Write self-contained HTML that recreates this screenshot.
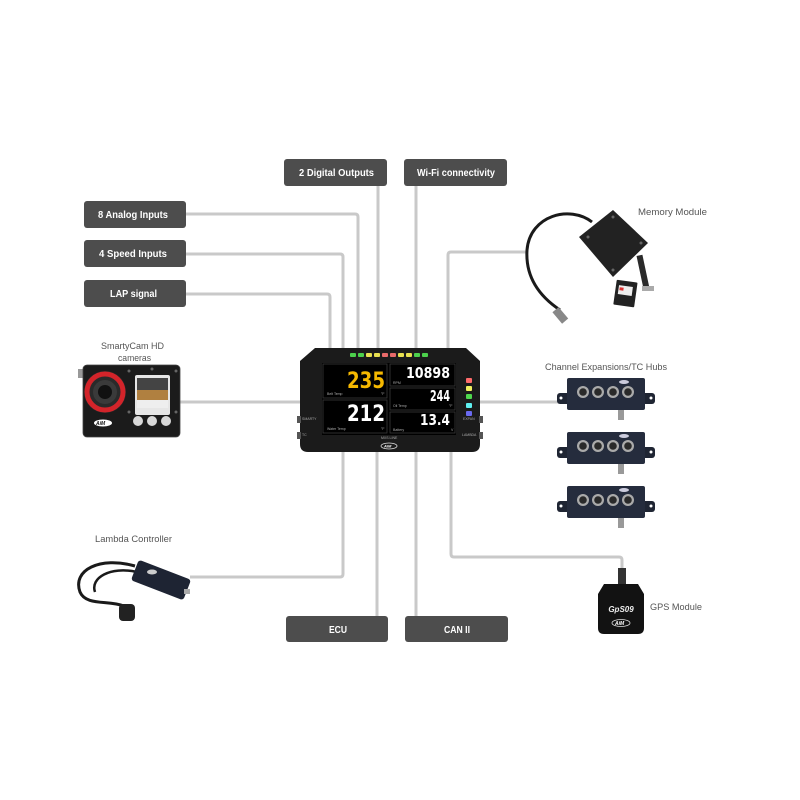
<!DOCTYPE html>
<html><head><meta charset="utf-8"><style>
html,body{margin:0;padding:0;background:#fff;}
svg{display:block;}
.lbl{font-family:"Liberation Sans",sans-serif;font-weight:bold;font-size:10.5px;fill:#fff;}
.cap{font-family:"Liberation Sans",sans-serif;font-size:9.5px;fill:#555;}
.tiny{font-family:"Liberation Sans",sans-serif;font-size:3.5px;fill:#aaa;}
.num{font-family:"DejaVu Sans","Liberation Sans",sans-serif;font-weight:bold;}
</style></head><body>
<svg width="800" height="800" viewBox="0 0 800 800" xmlns="http://www.w3.org/2000/svg">
<rect width="800" height="800" fill="#fff"/>
<!-- connectors -->
<g fill="none" stroke="#c9c9c9" stroke-width="3">
<path d="M186,214 H355 Q358,214 358,217 V350"/>
<path d="M186,254 H340 Q343,254 343,257 V350"/>
<path d="M186,294 H327 Q330,294 330,297 V350"/>
<path d="M378,186 V350"/>
<path d="M416,186 V350"/>
<path d="M527,252 H451 Q448,252 448,255 V350"/>
<path d="M180,402 H300"/>
<path d="M480,402 H563"/>
<path d="M190,577 H340 Q343,577 343,574 V450"/>
<path d="M377,450 V616"/>
<path d="M416,450 V616"/>
<path d="M451,450 V554 Q451,557 454,557 H619 Q622,557 622,560 V570"/>
</g>
<!-- label boxes -->
<g fill="#4d4d4d">
<rect x="84" y="201" width="102" height="27" rx="3"/>
<rect x="84" y="240" width="102" height="27" rx="3"/>
<rect x="84" y="280" width="102" height="27" rx="3"/>
<rect x="284" y="159" width="103" height="27" rx="3"/>
<rect x="404" y="159" width="103" height="27" rx="3"/>
<rect x="286" y="616" width="102" height="26" rx="3"/>
<rect x="405" y="616" width="103" height="26" rx="3"/>
</g>
<g class="lbl">
<text x="98" y="218" textLength="70" lengthAdjust="spacingAndGlyphs">8 Analog Inputs</text>
<text x="99" y="257" textLength="68" lengthAdjust="spacingAndGlyphs">4 Speed Inputs</text>
<text x="110" y="297" textLength="47" lengthAdjust="spacingAndGlyphs">LAP signal</text>
<text x="299" y="176" textLength="75" lengthAdjust="spacingAndGlyphs">2 Digital Outputs</text>
<text x="417" y="176" textLength="78" lengthAdjust="spacingAndGlyphs">Wi-Fi connectivity</text>
<text x="329" y="633" textLength="18" lengthAdjust="spacingAndGlyphs">ECU</text>
<text x="444" y="633" textLength="26" lengthAdjust="spacingAndGlyphs">CAN II</text>
</g>
<!-- captions -->
<g class="cap">
<text x="638" y="215" textLength="69" lengthAdjust="spacingAndGlyphs">Memory Module</text>
<text x="545" y="370" textLength="122" lengthAdjust="spacingAndGlyphs">Channel Expansions/TC Hubs</text>
<text x="650" y="610" textLength="52" lengthAdjust="spacingAndGlyphs">GPS Module</text>
<text x="101" y="349" textLength="63" lengthAdjust="spacingAndGlyphs">SmartyCam HD</text>
<text x="118" y="361" textLength="33" lengthAdjust="spacingAndGlyphs">cameras</text>
<text x="95" y="542" textLength="77" lengthAdjust="spacingAndGlyphs">Lambda Controller</text>
</g>
<!-- dashboard -->
<path d="M315,348 H466 L480,361 V444 Q480,452 472,452 H308 Q300,452 300,444 V361 Z" fill="#1b1b1b"/>
<g fill="#555">
<rect x="297" y="416" width="4" height="7"/><rect x="297" y="432" width="4" height="7"/>
<rect x="479" y="416" width="4" height="7"/><rect x="479" y="432" width="4" height="7"/>
</g>
<text class="tiny" x="302" y="420">SMARTY</text><text class="tiny" x="302" y="436">TC</text>
<text class="tiny" x="463" y="420">EXPAN</text><text class="tiny" x="462" y="436">LAMBDA</text>
<rect x="322" y="363" width="134" height="72" fill="#000"/>
<g fill="#000" stroke="#3a3a3a" stroke-width="0.8">
<rect x="323" y="364" width="64" height="34"/>
<rect x="323" y="400" width="64" height="33"/>
<rect x="390" y="364" width="65" height="22"/>
<rect x="390" y="388" width="65" height="22"/>
<rect x="390" y="412" width="65" height="21"/>
</g>
<text class="num" x="347" y="388" font-size="22" fill="#f5b800" textLength="38" lengthAdjust="spacingAndGlyphs">235</text>
<text class="num" x="347" y="421" font-size="22" fill="#fff" textLength="38" lengthAdjust="spacingAndGlyphs">212</text>
<text class="num" x="406" y="378" font-size="15" fill="#fff" textLength="44" lengthAdjust="spacingAndGlyphs">10898</text>
<text class="num" x="430" y="401" font-size="15" fill="#fff" textLength="20" lengthAdjust="spacingAndGlyphs">244</text>
<text class="num" x="420" y="425" font-size="15" fill="#fff" textLength="30" lengthAdjust="spacingAndGlyphs">13.4</text>
<g class="tiny" fill="#888">
<text x="327" y="395">Belt Temp</text><text x="381" y="395">°F</text>
<text x="327" y="430">Water Temp</text><text x="381" y="430">°F</text>
<text x="393" y="384">RPM</text>
<text x="393" y="407">Oil Temp</text><text x="449" y="407">°F</text>
<text x="393" y="431">Battery</text><text x="451" y="431">V</text>
<text x="381" y="439">MXS LINE</text>
</g>
<ellipse cx="389" cy="446" rx="8" ry="3" fill="none" stroke="#ddd" stroke-width="0.8"/>
<text x="384" y="447.5" font-family="Liberation Sans,sans-serif" font-size="4" font-style="italic" font-weight="bold" fill="#fff">AiM</text>
<g>
<rect x="350" y="353" width="6" height="4" rx="1" fill="#4cd04c"/>
<rect x="358" y="353" width="6" height="4" rx="1" fill="#4cd04c"/>
<rect x="366" y="353" width="6" height="4" rx="1" fill="#e8e050"/>
<rect x="374" y="353" width="6" height="4" rx="1" fill="#e8e050"/>
<rect x="382" y="353" width="6" height="4" rx="1" fill="#e86a6a"/>
<rect x="390" y="353" width="6" height="4" rx="1" fill="#e86a6a"/>
<rect x="398" y="353" width="6" height="4" rx="1" fill="#e8e050"/>
<rect x="406" y="353" width="6" height="4" rx="1" fill="#e8e050"/>
<rect x="414" y="353" width="6" height="4" rx="1" fill="#4cd04c"/>
<rect x="422" y="353" width="6" height="4" rx="1" fill="#4cd04c"/>
</g>
<g>
<rect x="466" y="378" width="6" height="5" rx="1" fill="#ff6b6b"/>
<rect x="466" y="386" width="6" height="5" rx="1" fill="#f0f060"/>
<rect x="466" y="394" width="6" height="5" rx="1" fill="#4ed84e"/>
<rect x="466" y="403" width="6" height="5" rx="1" fill="#5ff0f0"/>
<rect x="466" y="411" width="6" height="5" rx="1" fill="#6a6af0"/>
</g>
<!-- SmartyCam -->
<rect x="78" y="369" width="6" height="9" fill="#999"/>
<rect x="83" y="365" width="97" height="72" rx="4" fill="#1b1b1b" stroke="#444" stroke-width="0.8"/>
<circle cx="105" cy="392" r="21" fill="#2a2a2a"/>
<circle cx="105" cy="392" r="18" fill="none" stroke="#d3242a" stroke-width="5"/>
<circle cx="105" cy="392" r="12" fill="#3a3a3a"/>
<circle cx="105" cy="392" r="7" fill="#111"/>
<rect x="135" y="375" width="35" height="40" rx="2" fill="#e6e6e6"/>
<rect x="137" y="378" width="31" height="30" fill="#444"/>
<rect x="137" y="390" width="31" height="10" fill="#b08040"/>
<rect x="137" y="400" width="31" height="8" fill="#eee"/>
<g fill="#666"><circle cx="129" cy="371" r="1.5"/><circle cx="176" cy="371" r="1.5"/><circle cx="129" cy="412" r="1.5"/><circle cx="176" cy="412" r="1.5"/><circle cx="152" cy="369" r="1.5"/></g>
<g fill="#d8d8d8"><circle cx="138" cy="421" r="5"/><circle cx="152" cy="421" r="5"/><circle cx="166" cy="421" r="5"/></g>
<ellipse cx="103" cy="423" rx="9" ry="3.5" fill="#fff"/>
<text x="96" y="425" font-family="Liberation Sans,sans-serif" font-size="5" font-style="italic" font-weight="bold" fill="#111">AiM</text>
<!-- Memory module -->
<path d="M592,222 C570,205 530,215 527,250 C525,282 545,300 560,310" fill="none" stroke="#1a1a1a" stroke-width="3"/>
<rect x="556" y="308" width="8" height="15" fill="#888" transform="rotate(-40 560 315)"/>
<polygon points="613,210 648,243 613,277 579,237" fill="#222"/>
<g fill="#666"><circle cx="613" cy="217" r="1.5"/><circle cx="641" cy="243" r="1.5"/><circle cx="613" cy="270" r="1.5"/><circle cx="588" cy="237" r="1.5"/></g>
<rect x="640" y="255" width="6" height="35" fill="#2a2a2a" transform="rotate(-12 643 272)"/>
<rect x="642" y="286" width="12" height="5" fill="#aaa"/>
<rect x="615" y="281" width="21" height="25" rx="1" fill="#222" transform="rotate(8 625 293)"/>
<rect x="618" y="286" width="14" height="9" fill="#eee" transform="rotate(8 625 293)"/>
<rect x="619" y="288" width="4" height="3" fill="#d33" transform="rotate(8 625 293)"/>
<!-- Hubs -->
<g id="hub">
<rect x="557" y="393" width="98" height="11" rx="3" fill="#1f2533"/>
<rect x="567" y="378" width="78" height="32" rx="2" fill="#252c3d"/>
<circle cx="561" cy="398" r="1.5" fill="#fff"/><circle cx="651" cy="398" r="1.5" fill="#fff"/>
<g fill="#aaa"><circle cx="583" cy="392" r="6"/><circle cx="598" cy="392" r="6"/><circle cx="613" cy="392" r="6"/><circle cx="628" cy="392" r="6"/></g>
<g fill="#2a2a2a"><circle cx="583" cy="392" r="3.8"/><circle cx="598" cy="392" r="3.8"/><circle cx="613" cy="392" r="3.8"/><circle cx="628" cy="392" r="3.8"/></g>
<ellipse cx="624" cy="382" rx="5" ry="2" fill="#ccd"/>
<rect x="618" y="410" width="6" height="10" fill="#999"/>
</g>
<use href="#hub" y="54"/>
<use href="#hub" y="108"/>
<!-- Lambda controller -->
<path d="M135,566 C100,556 72,570 80,592 C86,606 108,600 124,606" fill="none" stroke="#1a1a1a" stroke-width="3"/>
<path d="M137,572 C110,566 90,578 95,592" fill="none" stroke="#1a1a1a" stroke-width="2.5"/>
<rect x="119" y="604" width="16" height="17" rx="4" fill="#222"/>
<rect x="133" y="569" width="56" height="22" rx="3" fill="#1e2433" transform="rotate(21 161 580)"/>
<ellipse cx="152" cy="572" rx="5" ry="2.5" fill="#ccc"/>
<rect x="184" y="589" width="6" height="5" fill="#aaa"/>
<!-- GPS -->
<rect x="618" y="568" width="8" height="17" fill="#333"/>
<path d="M604,584 L638,584 L644,594 V628 Q644,634 638,634 H604 Q598,634 598,628 V594 Z" fill="#121212"/>
<text x="621" y="612" text-anchor="middle" font-family="Liberation Sans,sans-serif" font-size="8" font-style="italic" font-weight="bold" fill="#eee">GpS09</text>
<ellipse cx="621" cy="623" rx="9" ry="3.5" fill="none" stroke="#ddd" stroke-width="0.8"/>
<text x="615" y="625" font-family="Liberation Sans,sans-serif" font-size="5" font-style="italic" font-weight="bold" fill="#fff">AiM</text>
</svg>
</body></html>
